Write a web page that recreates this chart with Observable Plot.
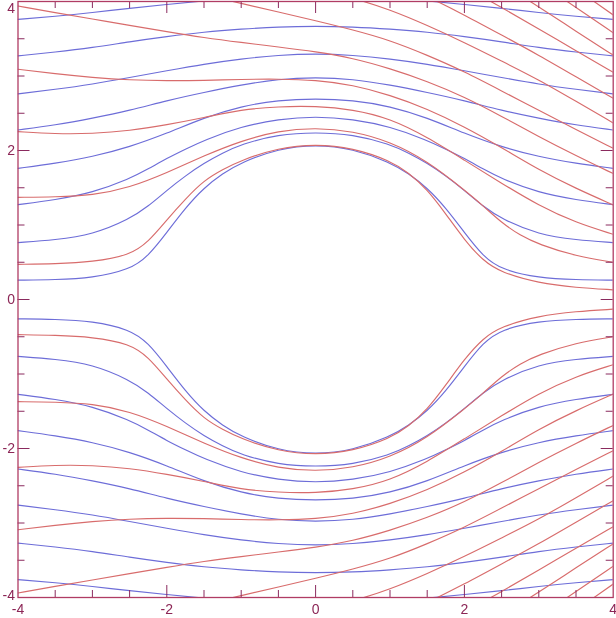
<!DOCTYPE html>
<html>
<head>
<meta charset="utf-8">
<script src="https://cdn.jsdelivr.net/npm/d3@7"></script>
<script src="https://cdn.jsdelivr.net/npm/@observablehq/plot@0.6"></script>
<style>
  html, body { margin: 0; padding: 0; background: #fff; overflow: hidden; }
  g[aria-label="line"] path { mix-blend-mode: multiply; }
</style>
</head>
<body>
<div id="chart"></div>
<script>
// ---- Blue streamlines (upper half; lower half listed separately) ----
const B1 = [[-4,0.26],[-3.5,0.265],[-3,0.29],[-2.5,0.40],[-2.25,0.58],[-2,0.90],[-1.75,1.23],[-1.5,1.50],[-1.25,1.69],[-1,1.84],[-0.5,2.025],[0,2.08],[0.5,2.025],[1,1.84],[1.25,1.69],[1.5,1.50],[1.75,1.23],[2,0.90],[2.25,0.58],[2.5,0.40],[3,0.29],[3.5,0.265],[4,0.26]];
const B2 = [[-4,0.763],[-3.5,0.80],[-3,0.87],[-2.5,1.08],[-2.25,1.25],[-2,1.465],[-1.75,1.66],[-1.5,1.83],[-1.25,1.965],[-1,2.085],[-0.5,2.216],[0,2.244],[0.5,2.216],[1,2.085],[1.25,1.965],[1.5,1.83],[1.75,1.66],[2,1.465],[2.25,1.25],[2.5,1.08],[3,0.87],[3.5,0.80],[4,0.763]];
const B3 = [[-4,1.273],[-3.5,1.338],[-3,1.433],[-2.5,1.62],[-2.25,1.752],[-2,1.895],[-1.75,2.018],[-1.5,2.138],[-1,2.322],[-0.5,2.421],[0,2.459],[0.5,2.421],[1,2.322],[1.5,2.138],[1.75,2.018],[2,1.895],[2.25,1.752],[2.5,1.62],[3,1.433],[3.5,1.338],[4,1.273]];
const B4 = [[-4,1.76],[-3.5,1.828],[-3,1.915],[-2.5,2.047],[-2,2.229],[-1.5,2.441],[-1,2.595],[-0.5,2.676],[0,2.696],[0.5,2.676],[1,2.595],[1.5,2.441],[2,2.229],[2.5,2.047],[3,1.915],[3.5,1.828],[4,1.76]];
const B5 = [[-4,2.275],[-3.5,2.342],[-3,2.433],[-2.5,2.537],[-2,2.67],[-1.5,2.78],[-1,2.88],[-0.5,2.96],[0,2.982],[0.5,2.96],[1,2.88],[1.5,2.78],[2,2.67],[2.5,2.537],[3,2.433],[3.5,2.342],[4,2.275]];
const B6 = [[-4,2.76],[-3.5,2.82],[-3,2.89],[-2.5,2.98],[-2,3.07],[-1.5,3.16],[-1,3.23],[-0.5,3.28],[0,3.30],[0.5,3.28],[1,3.23],[1.5,3.16],[2,3.07],[2.5,2.98],[3,2.89],[3.5,2.82],[4,2.76]];
const B7 = [[-4,3.27],[-3.5,3.32],[-3,3.38],[-2.5,3.46],[-2,3.53],[-1.5,3.59],[-1,3.63],[-0.5,3.66],[0,3.67],[0.5,3.66],[1,3.63],[1.5,3.59],[2,3.53],[2.5,3.46],[3,3.38],[3.5,3.32],[4,3.27]];
const B8 = [[-4,3.76],[-3.5,3.80],[-3,3.85],[-2.5,3.91],[-2,3.96],[-1.5,4.01],[-1,4.05],[-0.5,4.08],[0,4.09],[0.5,4.08],[1,4.05],[1.5,4.01],[2,3.96],[2.5,3.91],[3,3.85],[3.5,3.80],[4,3.76]];

const B1n = [[-4,-0.26],[-3.5,-0.265],[-3,-0.29],[-2.5,-0.40],[-2.25,-0.58],[-2,-0.90],[-1.75,-1.23],[-1.5,-1.50],[-1.25,-1.69],[-1,-1.84],[-0.5,-2.025],[0,-2.08],[0.5,-2.025],[1,-1.84],[1.25,-1.69],[1.5,-1.50],[1.75,-1.23],[2,-0.90],[2.25,-0.58],[2.5,-0.40],[3,-0.29],[3.5,-0.265],[4,-0.26]];
const B2n = [[-4,-0.763],[-3.5,-0.80],[-3,-0.87],[-2.5,-1.08],[-2.25,-1.25],[-2,-1.465],[-1.75,-1.66],[-1.5,-1.83],[-1.25,-1.965],[-1,-2.085],[-0.5,-2.216],[0,-2.244],[0.5,-2.216],[1,-2.085],[1.25,-1.965],[1.5,-1.83],[1.75,-1.66],[2,-1.465],[2.25,-1.25],[2.5,-1.08],[3,-0.87],[3.5,-0.80],[4,-0.763]];
const B3n = [[-4,-1.273],[-3.5,-1.338],[-3,-1.433],[-2.5,-1.62],[-2.25,-1.752],[-2,-1.895],[-1.75,-2.018],[-1.5,-2.138],[-1,-2.322],[-0.5,-2.421],[0,-2.459],[0.5,-2.421],[1,-2.322],[1.5,-2.138],[1.75,-2.018],[2,-1.895],[2.25,-1.752],[2.5,-1.62],[3,-1.433],[3.5,-1.338],[4,-1.273]];
const B4n = [[-4,-1.76],[-3.5,-1.828],[-3,-1.915],[-2.5,-2.047],[-2,-2.229],[-1.5,-2.441],[-1,-2.595],[-0.5,-2.676],[0,-2.696],[0.5,-2.676],[1,-2.595],[1.5,-2.441],[2,-2.229],[2.5,-2.047],[3,-1.915],[3.5,-1.828],[4,-1.76]];
const B5n = [[-4,-2.275],[-3.5,-2.342],[-3,-2.433],[-2.5,-2.537],[-2,-2.67],[-1.5,-2.78],[-1,-2.88],[-0.5,-2.96],[0,-2.982],[0.5,-2.96],[1,-2.88],[1.5,-2.78],[2,-2.67],[2.5,-2.537],[3,-2.433],[3.5,-2.342],[4,-2.275]];
const B6n = [[-4,-2.76],[-3.5,-2.82],[-3,-2.89],[-2.5,-2.98],[-2,-3.07],[-1.5,-3.16],[-1,-3.23],[-0.5,-3.28],[0,-3.30],[0.5,-3.28],[1,-3.23],[1.5,-3.16],[2,-3.07],[2.5,-2.98],[3,-2.89],[3.5,-2.82],[4,-2.76]];
const B7n = [[-4,-3.27],[-3.5,-3.32],[-3,-3.38],[-2.5,-3.46],[-2,-3.53],[-1.5,-3.59],[-1,-3.63],[-0.5,-3.66],[0,-3.67],[0.5,-3.66],[1,-3.63],[1.5,-3.59],[2,-3.53],[2.5,-3.46],[3,-3.38],[3.5,-3.32],[4,-3.27]];
const B8n = [[-4,-3.76],[-3.5,-3.80],[-3,-3.85],[-2.5,-3.91],[-2,-3.96],[-1.5,-4.01],[-1,-4.05],[-0.5,-4.08],[0,-4.09],[0.5,-4.08],[1,-4.05],[1.5,-4.01],[2,-3.96],[2.5,-3.91],[3,-3.85],[3.5,-3.80],[4,-3.76]];

// ---- Red streamlines (upper half) ----
const Ra = [[-4,0.472],[-3.5,0.48],[-3,0.503],[-2.5,0.593],[-2.25,0.77],[-2,1.07],[-1.75,1.35],[-1.5,1.60],[-1.25,1.745],[-1,1.87],[-0.5,2.035],[0,2.087],[0.5,2.035],[1,1.865],[1.25,1.70],[1.5,1.48],[1.75,1.15],[2,0.80],[2.25,0.52],[2.5,0.36],[3,0.22],[3.5,0.16],[4,0.13]];
const Rb = [[-4,1.371],[-3.5,1.376],[-3,1.398],[-2.5,1.50],[-2,1.70],[-1.5,1.93],[-1,2.13],[-0.5,2.265],[0,2.307],[0.5,2.26],[1,2.12],[1.5,1.86],[2,1.47],[2.25,1.26],[2.5,1.03],[2.75,0.86],[3,0.74],[3.5,0.58],[4,0.50]];
const Rc = [[-4,2.253],[-3.5,2.222],[-3,2.225],[-2.5,2.265],[-2,2.345],[-1.5,2.44],[-1,2.55],[-0.5,2.59],[0,2.597],[0.5,2.55],[1,2.43],[1.5,2.18],[2,1.87],[2.5,1.56],[3,1.26],[3.5,1.03],[4,0.875]];
const Rd = [[-4,3.09],[-3.5,3.03],[-3,2.98],[-2.5,2.945],[-2,2.935],[-1.5,2.94],[-1,2.955],[-0.5,2.96],[0,2.946],[0.5,2.88],[1,2.745],[1.5,2.56],[2,2.32],[2.5,2.04],[3,1.74],[3.5,1.49],[4,1.27]];
const Re = [[-4,3.94],[-3.5,3.85],[-3,3.765],[-2.5,3.68],[-2,3.595],[-1.5,3.515],[-1,3.45],[-0.5,3.39],[0,3.327],[0.5,3.24],[1,3.10],[1.5,2.93],[2,2.72],[2.5,2.46],[3,2.185],[3.5,1.93],[4,1.69]];
const Rf = [[-2,4.2],[-1.5,4.09],[-1,3.975],[-0.5,3.86],[0,3.742],[0.5,3.62],[1,3.48],[1.5,3.28],[2,3.06],[2.5,2.80],[3,2.54],[3.5,2.28],[4,2.03]];
const Rg = [[0,4.17],[0.5,4.05],[1,3.89],[1.5,3.68],[2,3.45],[2.5,3.20],[3,2.95],[3.5,2.66],[4,2.37]];
const Rh = [[1,4.30],[1.5,4.07],[2,3.82],[2.5,3.55],[3,3.28],[3.5,2.99],[4,2.70]];
const Ri = [[1.5,4.45],[2,4.2],[2.5,3.92],[3,3.63],[3.5,3.34],[4,3.05]];
const Rj = [[2,4.55],[2.5,4.24],[3,3.93],[3.5,3.60],[4,3.28]];
const Rk = [[3,4.26],[3.5,3.92],[4,3.58]];
const Rl = [[3.5,4.17],[4,3.82]];

// ---- Red streamlines (lower half) ----
const Ran = [[-4,-0.472],[-3.5,-0.48],[-3,-0.503],[-2.5,-0.593],[-2.25,-0.77],[-2,-1.07],[-1.75,-1.35],[-1.5,-1.60],[-1.25,-1.745],[-1,-1.87],[-0.5,-2.035],[0,-2.087],[0.5,-2.035],[1,-1.865],[1.25,-1.70],[1.5,-1.48],[1.75,-1.15],[2,-0.80],[2.25,-0.52],[2.5,-0.36],[3,-0.22],[3.5,-0.16],[4,-0.13]];
const Rbn = [[-4,-1.371],[-3.5,-1.376],[-3,-1.398],[-2.5,-1.50],[-2,-1.70],[-1.5,-1.93],[-1,-2.13],[-0.5,-2.265],[0,-2.307],[0.5,-2.26],[1,-2.12],[1.5,-1.86],[2,-1.47],[2.25,-1.26],[2.5,-1.03],[2.75,-0.86],[3,-0.74],[3.5,-0.58],[4,-0.50]];
const Rcn = [[-4,-2.253],[-3.5,-2.222],[-3,-2.225],[-2.5,-2.265],[-2,-2.345],[-1.5,-2.44],[-1,-2.55],[-0.5,-2.59],[0,-2.597],[0.5,-2.55],[1,-2.43],[1.5,-2.18],[2,-1.87],[2.5,-1.56],[3,-1.26],[3.5,-1.03],[4,-0.875]];
const Rdn = [[-4,-3.09],[-3.5,-3.03],[-3,-2.98],[-2.5,-2.945],[-2,-2.935],[-1.5,-2.94],[-1,-2.955],[-0.5,-2.96],[0,-2.946],[0.5,-2.88],[1,-2.745],[1.5,-2.56],[2,-2.32],[2.5,-2.04],[3,-1.74],[3.5,-1.49],[4,-1.27]];
const Ren = [[-4,-3.94],[-3.5,-3.85],[-3,-3.765],[-2.5,-3.68],[-2,-3.595],[-1.5,-3.515],[-1,-3.45],[-0.5,-3.39],[0,-3.327],[0.5,-3.24],[1,-3.10],[1.5,-2.93],[2,-2.72],[2.5,-2.46],[3,-2.185],[3.5,-1.93],[4,-1.69]];
const Rfn = [[-2,-4.2],[-1.5,-4.09],[-1,-3.975],[-0.5,-3.86],[0,-3.742],[0.5,-3.62],[1,-3.48],[1.5,-3.28],[2,-3.06],[2.5,-2.80],[3,-2.54],[3.5,-2.28],[4,-2.03]];
const Rgn = [[0,-4.17],[0.5,-4.05],[1,-3.89],[1.5,-3.68],[2,-3.45],[2.5,-3.20],[3,-2.95],[3.5,-2.66],[4,-2.37]];
const Rhn = [[1,-4.30],[1.5,-4.07],[2,-3.82],[2.5,-3.55],[3,-3.28],[3.5,-2.99],[4,-2.70]];
const Rin = [[1.5,-4.45],[2,-4.2],[2.5,-3.92],[3,-3.63],[3.5,-3.34],[4,-3.05]];
const Rjn = [[2,-4.55],[2.5,-4.24],[3,-3.93],[3.5,-3.60],[4,-3.28]];
const Rkn = [[3,-4.26],[3.5,-3.92],[4,-3.58]];
const Rln = [[3.5,-4.17],[4,-3.82]];

// ---- Axis ticks and labels ----
const tickLabels = [-4, -2, 0, 2, 4];
const majorTicks = [-2, 0, 2];
const minorTicks = [-3.5, -3, -2.5, -1.5, -1, -0.5, 0.5, 1, 1.5, 2.5, 3, 3.5];

const blueCurves = [B1, B2, B3, B4, B5, B6, B7, B8, B1n, B2n, B3n, B4n, B5n, B6n, B7n, B8n];
const redCurves = [Ra, Rb, Rc, Rd, Re, Rf, Rg, Rh, Ri, Rj, Rk, Rl, Ran, Rbn, Rcn, Rdn, Ren, Rfn, Rgn, Rhn, Rin, Rjn, Rkn, Rln];

const toRows = (curves) => curves.flatMap((c, i) => c.map(([x, y]) => ({x, y, id: i})));
const blueRows = toRows(blueCurves);
const redRows = toRows(redCurves);

const BLUE = "#6d6dd8";
const RED = "#d86c6c";
const AXIS = "#8a2a5e";
const LABEL = "#8c2656";
const fmt = d => (d < 0 ? "-" : "") + Math.abs(d);

const W = 616, H = 618;
const mL = 17.5, mR = 3.3, mT = 1, mB = 21;
const frameH = H - mT - mB;
const frameW = W - mL - mR;
const majLen = 12, minLen = 7;

const chart = Plot.plot({
  width: W,
  height: H,
  marginLeft: mL,
  marginRight: mR,
  marginTop: mT,
  marginBottom: mB,
  x: {domain: [-4, 4], axis: null},
  y: {domain: [-4, 4], axis: null},
  style: {fontFamily: "Liberation Sans, Arial, sans-serif", background: "white"},
  marks: [
    Plot.line(blueRows, {x: "x", y: "y", z: "id", stroke: BLUE, strokeWidth: 1.15, curve: "basis", clip: true}),
    Plot.line(redRows, {x: "x", y: "y", z: "id", stroke: RED, strokeWidth: 1.15, curve: "basis", clip: true}),
    // bottom ticks
    Plot.tickX(minorTicks, {x: d => d, stroke: AXIS, insetTop: frameH - minLen}),
    Plot.tickX(majorTicks, {x: d => d, stroke: AXIS, insetTop: frameH - majLen}),
    // top ticks
    Plot.tickX(minorTicks, {x: d => d, stroke: AXIS, insetBottom: frameH - minLen}),
    Plot.tickX(majorTicks, {x: d => d, stroke: AXIS, insetBottom: frameH - majLen}),
    // left ticks
    Plot.tickY(minorTicks, {y: d => d, stroke: AXIS, insetRight: frameW - minLen}),
    Plot.tickY(majorTicks, {y: d => d, stroke: AXIS, insetRight: frameW - majLen}),
    // right ticks
    Plot.tickY(minorTicks, {y: d => d, stroke: AXIS, insetLeft: frameW - minLen}),
    Plot.tickY(majorTicks, {y: d => d, stroke: AXIS, insetLeft: frameW - majLen}),
    Plot.frame({stroke: "#b03c64", strokeWidth: 1.3}),
    // left labels
    Plot.text(tickLabels.filter(d => d === 4), {y: d => d, text: fmt, frameAnchor: "left", textAnchor: "end", lineAnchor: "top", dx: -3, dy: 1.5, fill: LABEL, fontSize: 14}),
    Plot.text(tickLabels.filter(d => Math.abs(d) < 4), {y: d => d, text: fmt, frameAnchor: "left", textAnchor: "end", lineAnchor: "middle", dx: -3, fill: LABEL, fontSize: 14}),
    Plot.text(tickLabels.filter(d => d === -4), {y: d => d, text: fmt, frameAnchor: "left", textAnchor: "end", lineAnchor: "bottom", dx: -3, dy: 2, fill: LABEL, fontSize: 14}),
    // bottom labels
    Plot.text(tickLabels, {x: d => d, text: fmt, frameAnchor: "bottom", lineAnchor: "top", dy: 7, fill: LABEL, fontSize: 14})
  ]
});
document.getElementById("chart").appendChild(chart);
</script>
</body>
</html>
